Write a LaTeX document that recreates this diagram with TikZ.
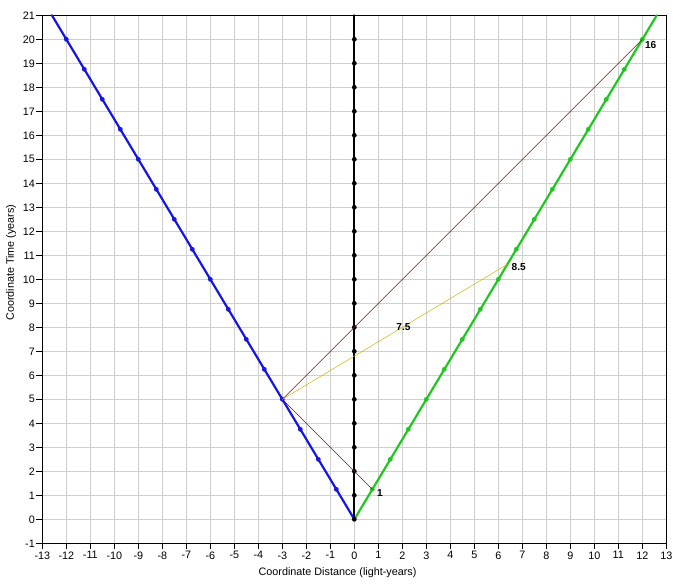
\documentclass[tikz,border=0pt]{standalone}
\usepackage{fontspec}
\setmainfont{Liberation Sans}

\definecolor{gridgray}{RGB}{208,208,208}
\definecolor{shipblue}{RGB}{20,20,235}
\definecolor{shipgreen}{RGB}{30,200,30}
\definecolor{signalred}{RGB}{150,10,10}
\definecolor{nowyellow}{RGB}{205,185,0}

\tikzset{
  worldline/.style={line width=2.6pt, line cap=round},
  signal/.style={signalred, line width=0.6pt},
  nowline/.style={nowyellow, line width=0.6pt},
  ticklbl/.style={inner sep=1pt, font=\fontsize{12.8}{14}\selectfont},
  agelbl/.style={inner sep=1pt, font=\fontsize{12}{14}\selectfont\bfseries}
}

\begin{document}
\begin{tikzpicture}[x=1cm, y=1cm]
    \useasboundingbox (-14.763, -2.737) rectangle (13.569, 21.638);

    % grid and frame
    \draw[gridgray, line width=0.8pt] (-13, -1) grid (13, 21);
    \draw[line width=0.9pt] (-13, -1) rectangle (13, 21);

    \foreach \x in {-13,...,13} {
      \draw[line width=0.9pt] (\x, -1) -- (\x, -1.25);
      \node[ticklbl, anchor=north] at (\x, -1.3) {\x};
    }
    \foreach \y in {-1,...,21} {
      \draw[line width=0.9pt] (-13, \y) -- (-13.25, \y);
      \node[ticklbl, anchor=east] at (-13.27, \y) {\y};
    }

    \node[ticklbl] (xlabel) at (-0.7, -2.24) {Coordinate Distance (light-years)};
    \node[ticklbl, rotate=90] (ylabel) at (-14.3, 10.7) {Coordinate Time (years)};

    % events
    \coordinate (origin) at (0, 0);
    \coordinate (blueev) at (-3, 5);
    \coordinate (hereA) at (0, 2);
    \coordinate (hereB) at (0, 8);
    \coordinate (greenA) at (0.75, 1.25);
    \coordinate (greenB) at (6.375, 10.625);
    \coordinate (greenC) at (12, 20);

    % world lines
    \draw[worldline, shipblue] (origin) -- (-12.6, 21);
    \draw[worldline, shipgreen] (origin) -- (12.6, 21);
    \draw[worldline, black] (origin) -- (0, 21);

    \foreach \k in {1,...,16} {
      \fill[shipblue] (-0.75*\k, 1.25*\k) circle (0.1);
      \fill[shipgreen] (0.75*\k, 1.25*\k) circle (0.1);
    }
    \foreach \k in {0,...,20} {
      \fill[black] (0, \k) circle (0.1);
    }

    % signals
    \draw[signal] (blueev) -- (hereA) -- (greenA);
    \draw[signal] (blueev) -- (hereB) -- (greenC);
    \draw[nowline] (blueev) -- (greenB);

    \node[agelbl] (age1) at (1.07, 1.08) {1};
    \node[agelbl] (age16) at (12.35, 19.75) {16};
    \node[agelbl] (age85) at (6.85, 10.5) {8.5};
    \node[agelbl] (age75) at (2.05, 8.0) {7.5};
\end{tikzpicture}
\end{document}
